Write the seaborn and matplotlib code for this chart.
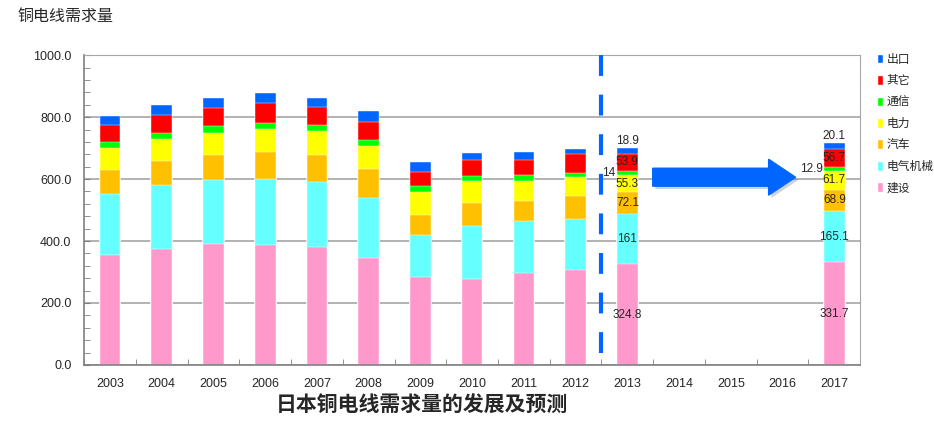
import numpy as np
import pandas as pd
import seaborn as sns
import matplotlib.pyplot as plt
from matplotlib.patches import Patch, FancyArrow
import matplotlib.patheffects as pe

# data (thousand t)
years_all = ['2003', '2004', '2005', '2006', '2007', '2008', '2009', '2010',
             '2011', '2012', '2013', '2014', '2015', '2016', '2017']
years = ['2003', '2004', '2005', '2006', '2007', '2008', '2009', '2010',
         '2011', '2012', '2013', '2017']
construction = [356, 374, 390, 387, 382, 346, 284, 277, 297, 306, 324.8, 331.7]
machinery = [196, 206, 207, 213, 208, 194, 135, 171, 168, 165, 161, 165.1]
auto = [77, 79, 80, 88, 87, 91, 64, 76, 65, 75, 72.1, 68.9]
power = [72, 70, 71, 75, 77, 75, 75, 70, 64, 60, 55.3, 61.7]
telecom = [19, 19, 23, 19, 20, 20, 20, 16, 19, 13, 14, 12.9]
other = [53, 59, 59, 64, 59, 59, 46, 50, 50, 63, 53.9, 56.7]
export = [32, 33, 32, 31, 29, 36, 30, 25, 23, 16, 18.9, 20.1]

series_names = ['建设', '电气机械', '汽车', '电力', '通信', '其它', '出口']
series_vals = [construction, machinery, auto, power, telecom, other, export]
colors = ['#FF99CC', '#66FFFF', '#FFC000', '#FFFF00', '#00FF00', '#FF0000', '#0066FF']

df = pd.DataFrame(dict(zip(series_names, series_vals)), index=years)
cum = df.cumsum(axis=1)

sns.set_style('white')
plt.rcParams['font.family'] = ['Liberation Sans', 'Noto Sans CJK SC', 'DejaVu Sans']

fig = plt.figure(figsize=(9.34, 4.45), dpi=100)
ax = fig.add_axes([0.09, 0.18, 0.831, 0.696])

# stacked bars: draw cumulative totals from top layer down
for name, col in reversed(list(zip(series_names, colors))):
    sns.barplot(x=list(years), y=cum[name].values, order=years_all, color=col,
                saturation=1, width=0.4, errorbar=None, ax=ax,
                edgecolor='white', linewidth=0.3)

ax.set_xlim(-0.5, 14.5)
ax.set_ylim(0, 1000)
ax.set_yticks(np.arange(0, 1001, 200))
ax.set_yticklabels([f'{v:.1f}' for v in np.arange(0, 1001, 200)])
ax.set_yticks(np.arange(0, 1001, 40), minor=True)
ax.set_xticks(np.arange(-0.5, 15, 1), minor=True)
ax.yaxis.grid(True, color='#A6A6A6', linewidth=1.2)
ax.set_axisbelow(True)
ax.tick_params(axis='y', which='both', direction='in', left=True, length=4,
               pad=9, labelsize=9, color='#808080')
ax.tick_params(axis='x', which='minor', direction='in', bottom=True, length=4,
               color='#808080')
ax.tick_params(axis='x', which='major', bottom=False, pad=6, labelsize=9)
ax.set_xlabel('')
ax.set_ylabel('')
for s in ['left', 'bottom']:
    ax.spines[s].set_color('#808080')
    ax.spines[s].set_linewidth(1.2)
for s in ['top', 'right']:
    ax.spines[s].set_color('#A6A6A6')

# value labels for 2013 and 2017
for yr in ['2013', '2017']:
    xi = years_all.index(yr)
    row = df.loc[yr]
    base = 0
    for name in series_names:
        v = row[name]
        txt = f'{v:g}'
        if name == '通信':
            ax.text(xi - 0.23, base + v / 2, txt, ha='right', va='center', fontsize=8.5)
        elif name == '出口':
            ax.text(xi, base + v + 4, txt, ha='center', va='bottom', fontsize=8.5)
        else:
            ax.text(xi, base + v / 2, txt, ha='center', va='center', fontsize=8.5)
        base += v

# dashed divider between actual and forecast
ax.plot([9.5, 9.5], [40, 1035], color='#0066FF', linewidth=3,
        linestyle=(0, (5, 4.5)), clip_on=False, zorder=5)

# forecast arrow
arr = FancyArrow(10.49, 606, 2.76, 0, width=58, head_width=116, head_length=0.52,
                 length_includes_head=True, color='#0066FF', zorder=5,
                 path_effects=[pe.SimplePatchShadow(offset=(2, -2), alpha=0.2), pe.Normal()])
ax.add_patch(arr)

# legend
handles = [Patch(facecolor=c, label=n) for n, c in zip(series_names, colors)][::-1]
fig.legend(handles=handles, loc='upper left', bbox_to_anchor=(0.934, 0.89),
           frameon=False, fontsize=8.5, handlelength=0.5, handleheight=0.9,
           handletextpad=0.3, labelspacing=0.8, borderaxespad=0)

fig.text(0.019, 0.962, '铜电线需求量', fontsize=11.5, va='center', ha='left')
fig.text(0.452, 0.09, '日本铜电线需求量的发展及预测', fontsize=15, fontweight='bold',
         va='center', ha='center')

fig.savefig('out.png', dpi=100)
